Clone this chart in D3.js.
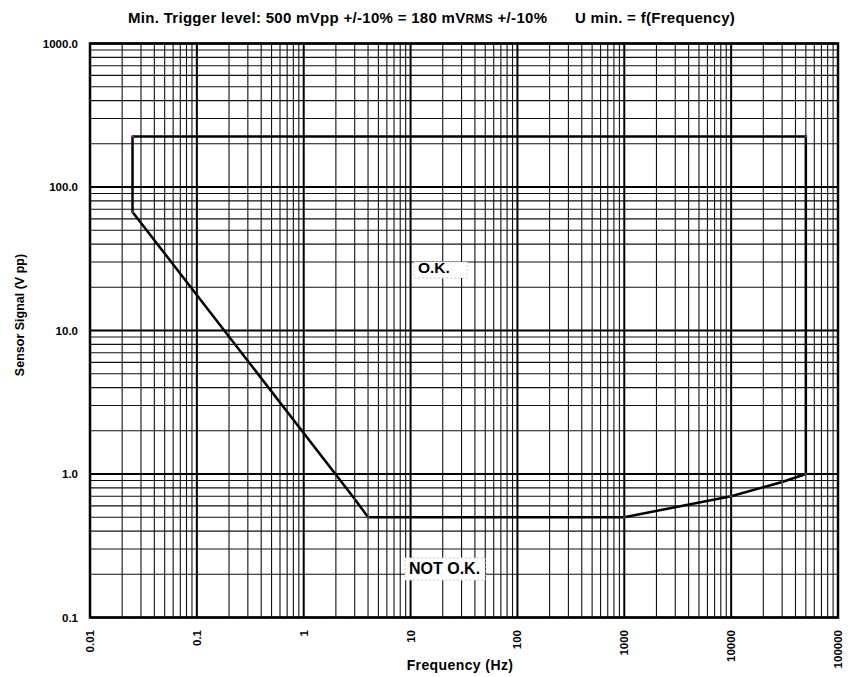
<!DOCTYPE html>
<html>
<head>
<meta charset="utf-8">
<script src="https://cdn.jsdelivr.net/npm/d3@7"></script>
<style>
body { margin: 0; background: #fff; }
text { font-family: Arial, "Liberation Sans", sans-serif; font-weight: bold; }
</style>
</head>
<body>
<div id="viz"></div>
<script>
"use strict";

// limit curve: frequency (Hz) and sensor signal (V pp)
var freq = [0.025, 0.025, 3, 4, 1000, 10000, 30000, 50000, 50000, 0.025];
var volts = [225, 67, 0.67, 0.5, 0.5, 0.7, 0.88, 1.0, 225, 225];

var xTicks = [0.01, 0.1, 1, 10, 100, 1000, 10000, 100000];
var xTickLabels = ["0.01", "0.1", "1", "10", "100", "1000", "10000", "100000"];
var yTicks = [0.1, 1, 10, 100, 1000];
var yTickLabels = ["0.1", "1.0", "10.0", "100.0", "1000.0"];

var width = 848, height = 677;
var margin = {left: 90, right: 10, top: 43.5, bottom: 59.5};

var svg = d3.select("#viz").append("svg")
	.attr("width", width)
	.attr("height", height);

var x = d3.scaleLog().domain([0.01, 100000]).range([margin.left, width - margin.right]);
var y = d3.scaleLog().domain([0.1, 1000]).range([height - margin.bottom, margin.top]);

// grid: every 1..9 step in each decade
var minorX = [], minorY = [];
for (var i = 0; i < xTicks.length - 1; i++) {
	for (var k = 2; k <= 9; k++) minorX.push(xTicks[i] * k);
}
for (var j = 0; j < yTicks.length - 1; j++) {
	for (var m = 2; m <= 9; m++) minorY.push(yTicks[j] * m);
}

var grid = svg.append("g");
grid.selectAll(".vx").data(minorX).enter().append("line")
	.attr("x1", function(d){ return x(d) }).attr("x2", function(d){ return x(d) })
	.attr("y1", y(1000)).attr("y2", y(0.1))
	.attr("stroke", "#111").attr("stroke-width", 1.1);
grid.selectAll(".hy").data(minorY).enter().append("line")
	.attr("y1", function(d){ return y(d) }).attr("y2", function(d){ return y(d) })
	.attr("x1", x(0.01)).attr("x2", x(100000))
	.attr("stroke", "#111").attr("stroke-width", 1.1);
grid.selectAll(".vmaj").data(xTicks).enter().append("line")
	.attr("x1", function(d){ return x(d) }).attr("x2", function(d){ return x(d) })
	.attr("y1", y(1000)).attr("y2", y(0.1))
	.attr("stroke", "#000").attr("stroke-width", 2);
grid.selectAll(".hmaj").data(yTicks).enter().append("line")
	.attr("y1", function(d){ return y(d) }).attr("y2", function(d){ return y(d) })
	.attr("x1", x(0.01)).attr("x2", x(100000))
	.attr("stroke", "#000").attr("stroke-width", 2);

svg.append("rect")
	.attr("x", x(0.01)).attr("y", y(1000))
	.attr("width", x(100000) - x(0.01)).attr("height", y(0.1) - y(1000))
	.attr("fill", "none").attr("stroke", "#000").attr("stroke-width", 2.5);

// labels inside the plot, white boxes behind them
var addBoxLabel = function(txt, tx, ty, size, bx, by, bw, bh) {
	svg.append("rect")
		.attr("x", bx).attr("y", by)
		.attr("width", bw).attr("height", bh)
		.attr("fill", "#fff").attr("stroke", "#ccc")
		.attr("stroke-dasharray", "2,2").attr("stroke-width", 1);
	svg.append("text")
		.attr("x", tx).attr("y", ty)
		.attr("font-size", size + "px")
		.text(txt);
};
addBoxLabel("O.K.", 418, 273, 15.5, 414, 262, 53, 16);
addBoxLabel("NOT O.K.", 409, 574, 16, 405, 558, 80, 22);

// limit curve
var pts = freq.map(function(f, i){ return [f, volts[i]] });
var line = d3.line()
	.x(function(d){ return x(d[0]) })
	.y(function(d){ return y(d[1]) });

svg.append("path")
	.attr("d", line(pts))
	.attr("fill", "none")
	.attr("stroke", "#000")
	.attr("stroke-width", 2.5)
	.attr("stroke-linejoin", "miter");

svg.selectAll(".pt").data(pts).enter().append("circle")
	.attr("cx", function(d){ return x(d[0]) })
	.attr("cy", function(d){ return y(d[1]) })
	.attr("r", 1.2)
	.attr("fill", "#8a1a9a");

// tick labels
svg.selectAll(".yl").data(yTicks).enter().append("text")
	.attr("x", 78)
	.attr("y", function(d){ return y(d) + 4 })
	.attr("text-anchor", "end")
	.attr("font-size", "11.5px")
	.text(function(d, i){ return yTickLabels[i] });

svg.selectAll(".xl").data(xTicks).enter().append("text")
	.attr("transform", function(d){ return "translate(" + (x(d) + 4) + "," + 630 + ") rotate(-90)" })
	.attr("text-anchor", "end")
	.attr("font-size", "11.5px")
	.text(function(d, i){ return xTickLabels[i] });

// axis titles
svg.append("text")
	.attr("x", 460).attr("y", 670)
	.attr("text-anchor", "middle")
	.attr("font-size", "14px")
	.attr("letter-spacing", "0.4px")
	.text("Frequency (Hz)");

svg.append("text")
	.attr("transform", "translate(24," + 315 + ") rotate(-90)")
	.attr("text-anchor", "middle")
	.attr("font-size", "12.5px")
	.text("Sensor Signal (V pp)");

// title
var title = svg.append("text")
	.attr("x", 128).attr("y", 23)
	.attr("font-size", "15px")
	.attr("letter-spacing", "0.3px");
title.append("tspan").text("Min. Trigger level: 500 mVpp +/-10% = 180 mV");
title.append("tspan").attr("font-size", "12px").text("RMS");
title.append("tspan").text(" +/-10%");
svg.append("text")
	.attr("x", 575).attr("y", 23)
	.attr("font-size", "15px")
	.attr("letter-spacing", "0.3px")
	.text("U min. = f(Frequency)");
</script>
</body>
</html>
